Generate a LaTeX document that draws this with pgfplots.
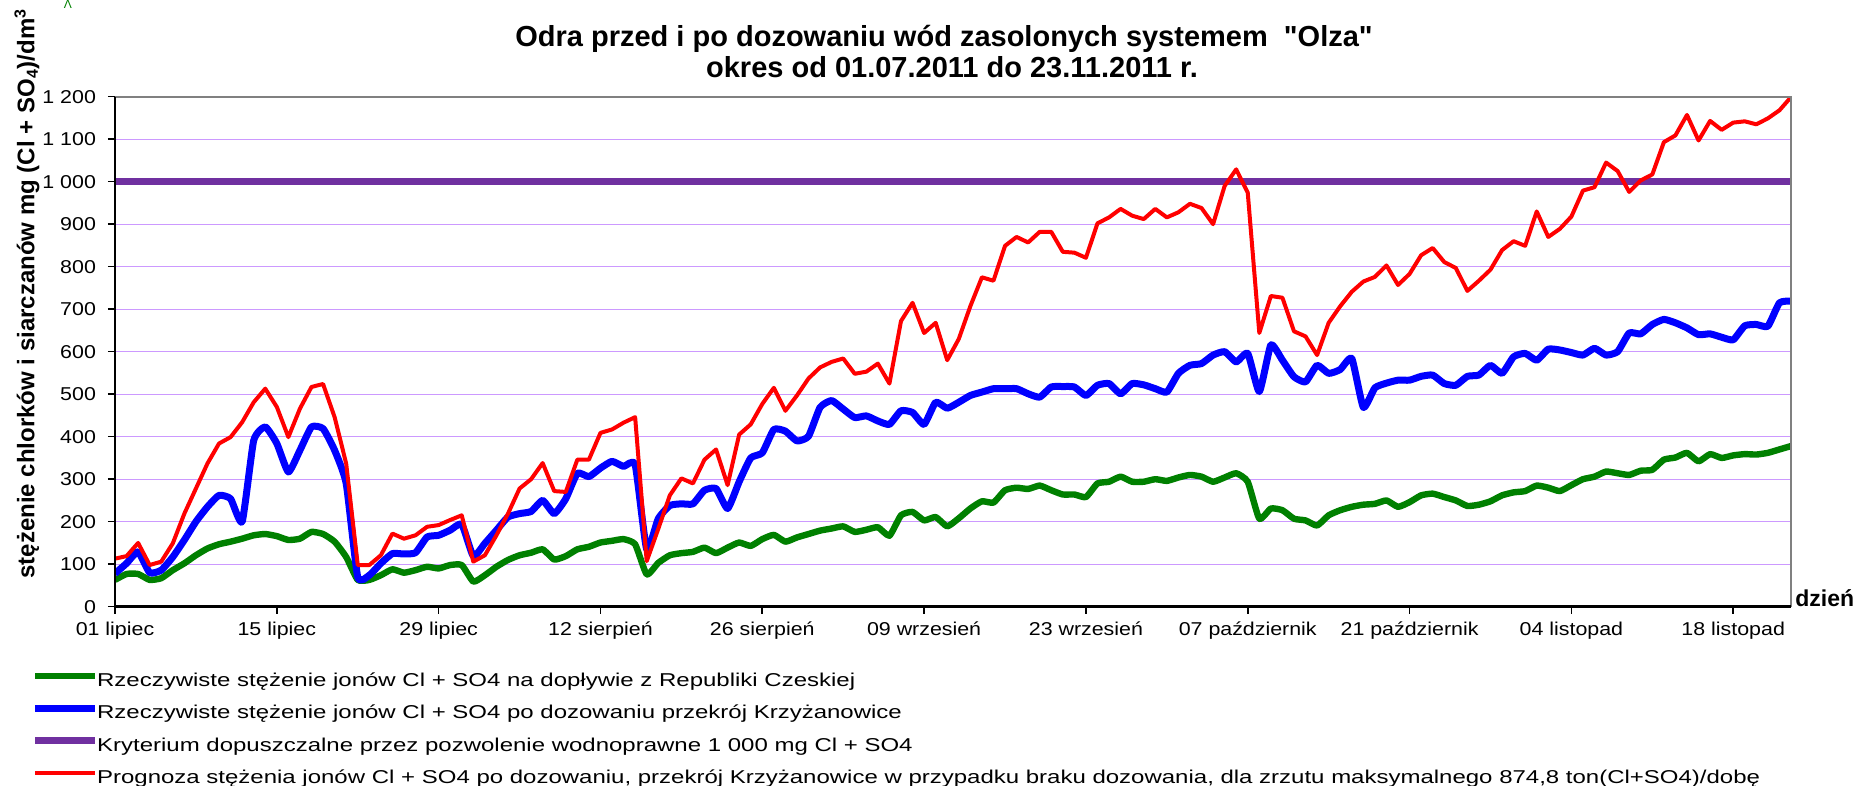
\documentclass[border=0pt]{standalone}
\usepackage{fontspec}
\setmainfont{Liberation Sans}[Ligatures=TeXOff]
\newfontfamily\tickfont[FakeStretch=1.15]{Liberation Sans}
\newfontfamily\legfont[FakeStretch=1.29]{Liberation Sans}
\usepackage{pgfplots}
\pgfplotsset{compat=1.18}
\definecolor{cgreen}{RGB}{0,128,0}
\definecolor{cblue}{RGB}{0,0,255}
\definecolor{cpurple}{RGB}{112,48,160}
\definecolor{cred}{RGB}{255,0,0}
\definecolor{cgrid}{RGB}{204,153,255}
\definecolor{cgray}{RGB}{128,128,128}
\begin{document}
\begin{tikzpicture}
\path[use as bounding box] (0,0) rectangle (931.5pt,393pt);
\begin{axis}[
  name=ax,
  at={(57.5pt,89.65pt)}, anchor=south west,
  scale only axis, width=838pt, height=255pt,
  xmin=0, xmax=145, ymin=0, ymax=1200,
  axis line style={draw=none},
  tick pos=left, tick align=outside, major tick length=3.5pt,
  tick style={black, line width=0.8pt},
  xtick={0,14,...,140},
  xticklabels={01 lipiec, 15 lipiec, 29 lipiec, 12 sierpień, 26 sierpień, 09 wrzesień, 23 wrzesień, 07 październik, 21 październik, 04 listopad, 18 listopad},
  ytick={0,100,...,1200},
  ymajorgrids, major grid style={cgrid, line width=0.6pt},
  yticklabel style={font=\tickfont\fontsize{9.3}{11}\selectfont, xshift=-2.5pt},
  xticklabel style={font=\tickfont\fontsize{9.3}{11}\selectfont, yshift=-0.5pt},
  /pgf/number format/.cd, 1000 sep={\ }, assume math mode=true, /pgfplots/.cd,
  legend style={at={(-0.0498,-0.12824)}, anchor=north west, draw=none, fill=none,
    inner sep=0pt, row sep=6.7pt, column sep=-1.9pt, font=\legfont\fontsize{9.3}{11}\selectfont,
    nodes={inner xsep=1pt, inner ysep=0pt, text height=7pt, text depth=2.5pt}},
  legend cell align=left,
  legend image code/.code={\draw[#1] (0pt,3pt) -- (30pt,3pt);},
]
\addplot[cgreen, line width=3.2pt, smooth, tension=0.3, line join=round] coordinates {
(0,63)(1,77)(2,77)(3,63)(4,67)(5,86)(6,102)(7,121)(8,137)(9,147)(10,153)(11,160)(12,168)(13,171)(14,166)(15,157)(16,160)(17,176)(18,171)(19,153)(20,117)(21,63)(22,63)(23,74)(24,88)(25,80)(26,86)(27,94)(28,90)(29,98)(30,98)(31,59)(32,74)(33,94)(34,110)(35,121)(36,127)(37,135)(38,111)(39,119)(40,135)(41,141)(42,151)(43,155)(44,159)(45,147)(46,76)(47,103)(48,121)(49,126)(50,129)(51,139)(52,126)(53,139)(54,151)(55,143)(56,159)(57,169)(58,153)(59,163)(60,171)(61,179)(62,184)(63,189)(64,176)(65,181)(66,187)(67,167)(68,215)(69,223)(70,203)(71,211)(72,189)(73,208)(74,231)(75,248)(76,245)(77,274)(78,280)(79,277)(80,285)(81,274)(82,264)(83,264)(84,258)(85,290)(86,294)(87,306)(88,294)(89,294)(90,300)(91,296)(92,304)(93,310)(94,306)(95,294)(96,304)(97,314)(98,294)(99,207)(100,231)(101,227)(102,207)(103,203)(104,191)(105,215)(106,227)(107,235)(108,240)(109,242)(110,250)(111,235)(112,246)(113,262)(114,266)(115,258)(116,250)(117,237)(118,240)(119,248)(120,262)(121,269)(122,272)(123,285)(124,280)(125,272)(126,286)(127,300)(128,306)(129,318)(130,314)(131,310)(132,320)(133,322)(134,346)(135,351)(136,362)(137,342)(138,359)(139,350)(140,356)(141,359)(142,358)(143,362)(144,370)(145,378)};
\addlegendentry{Rzeczywiste stężenie jonów Cl + SO4 na dopływie z Republiki Czeskiej}
\addplot[cblue, line width=3.5pt, smooth, tension=0.3, line join=round] coordinates {
(0,78)(1,102)(2,129)(3,80)(4,86)(5,117)(6,157)(7,200)(8,235)(9,262)(10,254)(11,200)(12,391)(13,423)(14,384)(15,317)(16,368)(17,423)(18,419)(19,368)(20,290)(21,70)(22,74)(23,102)(24,125)(25,124)(26,127)(27,164)(28,168)(29,180)(30,194)(31,119)(32,149)(33,180)(34,211)(35,219)(36,224)(37,250)(38,219)(39,254)(40,314)(41,306)(42,326)(43,342)(44,330)(45,334)(46,135)(47,207)(48,238)(49,242)(50,242)(51,274)(52,278)(53,231)(54,294)(55,350)(56,362)(57,417)(58,413)(59,390)(60,401)(61,469)(62,485)(63,465)(64,445)(65,449)(66,437)(67,429)(68,461)(69,457)(70,429)(71,481)(72,467)(73,481)(74,497)(75,505)(76,513)(77,513)(78,513)(79,501)(80,493)(81,517)(82,518)(83,517)(84,497)(85,521)(86,525)(87,501)(88,525)(89,522)(90,513)(91,505)(92,549)(93,568)(94,572)(95,592)(96,600)(97,576)(98,596)(99,506)(100,616)(101,580)(102,541)(103,529)(104,568)(105,549)(106,558)(107,584)(108,469)(109,515)(110,526)(111,533)(112,533)(113,542)(114,545)(115,525)(116,521)(117,542)(118,545)(119,568)(120,549)(121,588)(122,596)(123,580)(124,606)(125,604)(126,598)(127,592)(128,608)(129,592)(130,600)(131,644)(132,642)(133,664)(134,676)(135,668)(136,656)(137,640)(138,642)(139,634)(140,628)(141,661)(142,664)(143,660)(144,715)(145,719)};
\addlegendentry{Rzeczywiste stężenie jonów Cl + SO4 po dozowaniu przekrój Krzyżanowice}
\addplot[cpurple, line width=3.5pt] coordinates {(0,1000)(145,1000)};
\addlegendentry{Kryterium dopuszczalne przez pozwolenie wodnoprawne 1 000 mg Cl + SO4}
\addplot[cred, line width=2pt, line join=round] coordinates {
(0,113)(1,119)(2,150)(3,98)(4,106)(5,149)(6,219)(7,278)(8,337)(9,384)(10,399)(11,434)(12,481)(13,513)(14,470)(15,399)(16,466)(17,517)(18,524)(19,446)(20,337)(21,98)(22,98)(23,121)(24,172)(25,160)(26,168)(27,188)(28,192)(29,204)(30,215)(31,106)(32,121)(33,168)(34,219)(35,278)(36,300)(37,338)(38,272)(39,270)(40,346)(41,346)(42,409)(43,417)(44,433)(45,446)(46,107)(47,183)(48,262)(49,302)(50,290)(51,346)(52,370)(53,286)(54,405)(55,429)(56,477)(57,515)(58,461)(59,497)(60,537)(61,563)(62,576)(63,584)(64,548)(65,553)(66,572)(67,525)(68,672)(69,715)(70,644)(71,668)(72,580)(73,630)(74,707)(75,775)(76,767)(77,849)(78,870)(79,857)(80,882)(81,882)(82,835)(83,833)(84,821)(85,902)(86,916)(87,936)(88,920)(89,912)(90,936)(91,916)(92,928)(93,948)(94,938)(95,900)(96,990)(97,1029)(98,974)(99,644)(100,731)(101,727)(102,648)(103,636)(104,592)(105,668)(106,707)(107,741)(108,765)(109,776)(110,803)(111,757)(112,783)(113,827)(114,844)(115,811)(116,797)(117,743)(118,767)(119,793)(120,839)(121,860)(122,849)(123,930)(124,870)(125,889)(126,918)(127,979)(128,987)(129,1045)(130,1025)(131,976)(132,1003)(133,1017)(134,1093)(135,1109)(136,1157)(137,1097)(138,1143)(139,1122)(140,1139)(141,1142)(142,1135)(143,1149)(144,1168)(145,1199)};
\addlegendentry{Prognoza stężenia jonów Cl + SO4 po dozowaniu, przekrój Krzyżanowice w przypadku braku dozowania, dla zrzutu maksymalnego 874,8 ton(Cl+SO4)/dobę}
\end{axis}
\draw[cgray, line width=1pt] (ax.north west) -- (ax.north east) -- (ax.south east);
\draw[black, line width=1.2pt] (ax.north west) -- (ax.south west);
\draw[black, line width=1.6pt] (ax.south west) -- (ax.south east);
\node[anchor=base, font=\bfseries\fontsize{14.5}{17}\selectfont, inner sep=0pt] at (472pt,369.5pt) {Odra przed i po dozowaniu wód zasolonych systemem\ \ "Olza"};
\node[anchor=base, font=\bfseries\fontsize{14.5}{17}\selectfont, inner sep=0pt] at (476pt,354.45pt) {okres od 01.07.2011 do 23.11.2011 r.};
\node[rotate=90, font=\bfseries\fontsize{12}{14}\selectfont, inner sep=0pt] at (13.5pt,246.25pt) {stężenie chlorków i siarczanów mg (Cl + SO\textsubscript{4})/dm\textsuperscript{3}};
\node[anchor=base west, font=\bfseries\fontsize{11.5}{13}\selectfont, inner sep=0pt] at (897.5pt,89.65pt) {dzień};
\node[text=cgreen, font=\fontsize{6}{6}\selectfont, inner sep=0pt, anchor=north] at (34pt,393pt) {Λ};
\end{tikzpicture}
\end{document}
